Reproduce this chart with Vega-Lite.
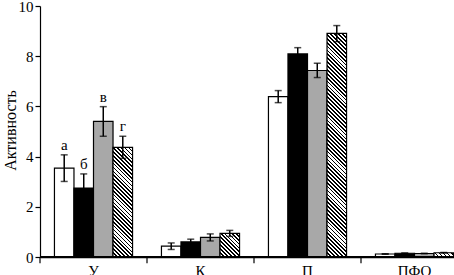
{
  "$schema": "https://vega.github.io/schema/vega-lite/v6.json",
  "autosize": {"type": "none"},
  "width": 414,
  "height": 251,
  "padding": {"left": 40, "top": 6, "right": 0, "bottom": 18},
  "background": "white",
  "config": {
    "view": {"stroke": null},
    "font": "Liberation Serif",
    "axis": {
      "labelFontSize": 15, "labelFont": "Liberation Serif", "labelColor": "black",
      "domainColor": "black", "tickColor": "black", "tickSize": 5,
      "domainWidth": 1.2, "tickWidth": 1.2, "labelPadding": 2, "grid": false,
      "titleFont": "Liberation Serif", "titleColor": "black", "titleFontWeight": "normal", "titleFontSize": 16
    },
    "axisY": {
      "titleX": -30, "titleY": 124, "titleAngle": -90, "titleAlign": "center", "titleBaseline": "middle"
    },
    "axisX": {"title": null, "labelAngle": 0, "domain": true, "domainWidth": 1.4, "ticks": false, "labelPadding": 6, "zindex": 1}
  },
  "data": {
    "values": [
      {"g": "У", "s": "a", "v": 3.54, "lo": 3.01, "hi": 4.07, "lbl": "а"},
      {"g": "У", "s": "b", "v": 2.75, "lo": 2.19, "hi": 3.31, "lbl": "б"},
      {"g": "У", "s": "c", "v": 5.40, "lo": 4.81, "hi": 5.99, "lbl": "в"},
      {"g": "У", "s": "d", "v": 4.37, "lo": 3.93, "hi": 4.81, "lbl": "г"},
      {"g": "К", "s": "a", "v": 0.43, "lo": 0.30, "hi": 0.56, "lbl": ""},
      {"g": "К", "s": "b", "v": 0.60, "lo": 0.49, "hi": 0.71, "lbl": ""},
      {"g": "К", "s": "c", "v": 0.78, "lo": 0.64, "hi": 0.92, "lbl": ""},
      {"g": "К", "s": "d", "v": 0.94, "lo": 0.82, "hi": 1.06, "lbl": ""},
      {"g": "П", "s": "a", "v": 6.39, "lo": 6.15, "hi": 6.63, "lbl": ""},
      {"g": "П", "s": "b", "v": 8.09, "lo": 7.84, "hi": 8.34, "lbl": ""},
      {"g": "П", "s": "c", "v": 7.43, "lo": 7.15, "hi": 7.72, "lbl": ""},
      {"g": "П", "s": "d", "v": 8.91, "lo": 8.58, "hi": 9.22, "lbl": ""},
      {"g": "ПФО", "s": "a", "v": 0.12, "lo": 0.11, "hi": 0.13, "lbl": ""},
      {"g": "ПФО", "s": "b", "v": 0.15, "lo": 0.14, "hi": 0.16, "lbl": ""},
      {"g": "ПФО", "s": "c", "v": 0.14, "lo": 0.13, "hi": 0.15, "lbl": ""},
      {"g": "ПФО", "s": "d", "v": 0.17, "lo": 0.16, "hi": 0.18, "lbl": ""}
    ]
  },
  "layer": [
    {
      "mark": {"type": "bar", "stroke": "black", "strokeWidth": 1.2},
      "encoding": {
        "x": {"field": "g", "type": "nominal", "sort": ["У", "К", "П", "ПФО"], "title": null, "scale": {"range": [0, 428], "paddingInner": 0, "paddingOuter": 0}},
        "xOffset": {"field": "s", "type": "nominal", "sort": ["a", "b", "c", "d"], "scale": {"paddingInner": 0, "paddingOuter": 0.74}},
        "y": {
          "field": "v", "type": "quantitative", "scale": {"domain": [0, 10]},
          "title": "Активность", "axis": {"values": [0, 2, 4, 6, 8, 10]}
        },
        "fill": {
          "field": "s", "type": "nominal", "legend": null,
          "scale": {"domain": ["a", "b", "c", "d"], "range": ["#ffffff", "#000000", "#a8a8a8", "#808080"]},
          "condition": [
            {"test": "datum.g==='У'&&datum.s==='d'", "value": {"gradient": "linear", "x1": 0, "y1": 1, "x2": 0.2032, "y2": -0.1416, "stops": [
              {"offset":0,"color":"#000"},{"offset":0.013,"color":"#000"},{"offset":0.013,"color":"#fff"},{"offset":0.03,"color":"#fff"},
              {"offset":0.03,"color":"#000"},{"offset":0.043,"color":"#000"},{"offset":0.043,"color":"#fff"},{"offset":0.06,"color":"#fff"},
              {"offset":0.06,"color":"#000"},{"offset":0.073,"color":"#000"},{"offset":0.073,"color":"#fff"},{"offset":0.09,"color":"#fff"},
              {"offset":0.09,"color":"#000"},{"offset":0.103,"color":"#000"},{"offset":0.103,"color":"#fff"},{"offset":0.12,"color":"#fff"},
              {"offset":0.12,"color":"#000"},{"offset":0.133,"color":"#000"},{"offset":0.133,"color":"#fff"},{"offset":0.15,"color":"#fff"},
              {"offset":0.15,"color":"#000"},{"offset":0.163,"color":"#000"},{"offset":0.163,"color":"#fff"},{"offset":0.18,"color":"#fff"},
              {"offset":0.18,"color":"#000"},{"offset":0.193,"color":"#000"},{"offset":0.193,"color":"#fff"},{"offset":0.21,"color":"#fff"},
              {"offset":0.21,"color":"#000"},{"offset":0.223,"color":"#000"},{"offset":0.223,"color":"#fff"},{"offset":0.24,"color":"#fff"},
              {"offset":0.24,"color":"#000"},{"offset":0.253,"color":"#000"},{"offset":0.253,"color":"#fff"},{"offset":0.27,"color":"#fff"},
              {"offset":0.27,"color":"#000"},{"offset":0.283,"color":"#000"},{"offset":0.283,"color":"#fff"},{"offset":0.3,"color":"#fff"},
              {"offset":0.3,"color":"#000"},{"offset":0.313,"color":"#000"},{"offset":0.313,"color":"#fff"},{"offset":0.33,"color":"#fff"},
              {"offset":0.33,"color":"#000"},{"offset":0.343,"color":"#000"},{"offset":0.343,"color":"#fff"},{"offset":0.36,"color":"#fff"},
              {"offset":0.36,"color":"#000"},{"offset":0.373,"color":"#000"},{"offset":0.373,"color":"#fff"},{"offset":0.39,"color":"#fff"},
              {"offset":0.39,"color":"#000"},{"offset":0.403,"color":"#000"},{"offset":0.403,"color":"#fff"},{"offset":0.42,"color":"#fff"},
              {"offset":0.42,"color":"#000"},{"offset":0.433,"color":"#000"},{"offset":0.433,"color":"#fff"},{"offset":0.45,"color":"#fff"},
              {"offset":0.45,"color":"#000"},{"offset":0.463,"color":"#000"},{"offset":0.463,"color":"#fff"},{"offset":0.48,"color":"#fff"},
              {"offset":0.48,"color":"#000"},{"offset":0.493,"color":"#000"},{"offset":0.493,"color":"#fff"},{"offset":0.51,"color":"#fff"},
              {"offset":0.51,"color":"#000"},{"offset":0.523,"color":"#000"},{"offset":0.523,"color":"#fff"},{"offset":0.54,"color":"#fff"},
              {"offset":0.54,"color":"#000"},{"offset":0.553,"color":"#000"},{"offset":0.553,"color":"#fff"},{"offset":0.57,"color":"#fff"},
              {"offset":0.57,"color":"#000"},{"offset":0.583,"color":"#000"},{"offset":0.583,"color":"#fff"},{"offset":0.6,"color":"#fff"},
              {"offset":0.6,"color":"#000"},{"offset":0.613,"color":"#000"},{"offset":0.613,"color":"#fff"},{"offset":0.63,"color":"#fff"},
              {"offset":0.63,"color":"#000"},{"offset":0.643,"color":"#000"},{"offset":0.643,"color":"#fff"},{"offset":0.66,"color":"#fff"},
              {"offset":0.66,"color":"#000"},{"offset":0.673,"color":"#000"},{"offset":0.673,"color":"#fff"},{"offset":0.69,"color":"#fff"},
              {"offset":0.69,"color":"#000"},{"offset":0.703,"color":"#000"},{"offset":0.703,"color":"#fff"},{"offset":0.72,"color":"#fff"},
              {"offset":0.72,"color":"#000"},{"offset":0.733,"color":"#000"},{"offset":0.733,"color":"#fff"},{"offset":0.75,"color":"#fff"},
              {"offset":0.75,"color":"#000"},{"offset":0.763,"color":"#000"},{"offset":0.763,"color":"#fff"},{"offset":0.78,"color":"#fff"},
              {"offset":0.78,"color":"#000"},{"offset":0.793,"color":"#000"},{"offset":0.793,"color":"#fff"},{"offset":0.81,"color":"#fff"},
              {"offset":0.81,"color":"#000"},{"offset":0.823,"color":"#000"},{"offset":0.823,"color":"#fff"},{"offset":0.84,"color":"#fff"},
              {"offset":0.84,"color":"#000"},{"offset":0.853,"color":"#000"},{"offset":0.853,"color":"#fff"},{"offset":0.87,"color":"#fff"},
              {"offset":0.87,"color":"#000"},{"offset":0.883,"color":"#000"},{"offset":0.883,"color":"#fff"},{"offset":0.9,"color":"#fff"},
              {"offset":0.9,"color":"#000"},{"offset":0.913,"color":"#000"},{"offset":0.913,"color":"#fff"},{"offset":0.93,"color":"#fff"},
              {"offset":0.93,"color":"#000"},{"offset":0.943,"color":"#000"},{"offset":0.943,"color":"#fff"},{"offset":0.96,"color":"#fff"},
              {"offset":0.96,"color":"#000"},{"offset":0.973,"color":"#000"},{"offset":0.973,"color":"#fff"},{"offset":0.99,"color":"#fff"},
              {"offset":0.99,"color":"#000"},{"offset":1,"color":"#000"}
            ]}},
            {"test": "datum.g==='К'&&datum.s==='d'", "value": {"gradient": "linear", "x1": 0, "y1": 1, "x2": 0.8976, "y2": -0.0847, "stops": [
              {"offset":0,"color":"#000"},{"offset":0.04,"color":"#000"},{"offset":0.04,"color":"#fff"},{"offset":0.09,"color":"#fff"},
              {"offset":0.09,"color":"#000"},{"offset":0.13,"color":"#000"},{"offset":0.13,"color":"#fff"},{"offset":0.18,"color":"#fff"},
              {"offset":0.18,"color":"#000"},{"offset":0.22,"color":"#000"},{"offset":0.22,"color":"#fff"},{"offset":0.27,"color":"#fff"},
              {"offset":0.27,"color":"#000"},{"offset":0.31,"color":"#000"},{"offset":0.31,"color":"#fff"},{"offset":0.36,"color":"#fff"},
              {"offset":0.36,"color":"#000"},{"offset":0.4,"color":"#000"},{"offset":0.4,"color":"#fff"},{"offset":0.45,"color":"#fff"},
              {"offset":0.45,"color":"#000"},{"offset":0.49,"color":"#000"},{"offset":0.49,"color":"#fff"},{"offset":0.54,"color":"#fff"},
              {"offset":0.54,"color":"#000"},{"offset":0.58,"color":"#000"},{"offset":0.58,"color":"#fff"},{"offset":0.63,"color":"#fff"},
              {"offset":0.63,"color":"#000"},{"offset":0.67,"color":"#000"},{"offset":0.67,"color":"#fff"},{"offset":0.72,"color":"#fff"},
              {"offset":0.72,"color":"#000"},{"offset":0.76,"color":"#000"},{"offset":0.76,"color":"#fff"},{"offset":0.81,"color":"#fff"},
              {"offset":0.81,"color":"#000"},{"offset":0.85,"color":"#000"},{"offset":0.85,"color":"#fff"},{"offset":0.9,"color":"#fff"},
              {"offset":0.9,"color":"#000"},{"offset":0.94,"color":"#000"},{"offset":0.94,"color":"#fff"},{"offset":0.99,"color":"#fff"},
              {"offset":0.99,"color":"#000"},{"offset":1,"color":"#000"}
            ]}},
            {"test": "datum.g==='П'&&datum.s==='d'", "value": {"gradient": "linear", "x1": 0, "y1": 1, "x2": 0.0942, "y2": -0.079, "stops": [
              {"offset":0,"color":"#000"},{"offset":0.007,"color":"#000"},{"offset":0.007,"color":"#fff"},{"offset":0.016,"color":"#fff"},
              {"offset":0.016,"color":"#000"},{"offset":0.023,"color":"#000"},{"offset":0.023,"color":"#fff"},{"offset":0.032,"color":"#fff"},
              {"offset":0.032,"color":"#000"},{"offset":0.039,"color":"#000"},{"offset":0.039,"color":"#fff"},{"offset":0.048,"color":"#fff"},
              {"offset":0.048,"color":"#000"},{"offset":0.055,"color":"#000"},{"offset":0.055,"color":"#fff"},{"offset":0.064,"color":"#fff"},
              {"offset":0.064,"color":"#000"},{"offset":0.071,"color":"#000"},{"offset":0.071,"color":"#fff"},{"offset":0.08,"color":"#fff"},
              {"offset":0.08,"color":"#000"},{"offset":0.087,"color":"#000"},{"offset":0.087,"color":"#fff"},{"offset":0.096,"color":"#fff"},
              {"offset":0.096,"color":"#000"},{"offset":0.103,"color":"#000"},{"offset":0.103,"color":"#fff"},{"offset":0.112,"color":"#fff"},
              {"offset":0.112,"color":"#000"},{"offset":0.119,"color":"#000"},{"offset":0.119,"color":"#fff"},{"offset":0.128,"color":"#fff"},
              {"offset":0.128,"color":"#000"},{"offset":0.135,"color":"#000"},{"offset":0.135,"color":"#fff"},{"offset":0.144,"color":"#fff"},
              {"offset":0.144,"color":"#000"},{"offset":0.151,"color":"#000"},{"offset":0.151,"color":"#fff"},{"offset":0.16,"color":"#fff"},
              {"offset":0.16,"color":"#000"},{"offset":0.167,"color":"#000"},{"offset":0.167,"color":"#fff"},{"offset":0.176,"color":"#fff"},
              {"offset":0.176,"color":"#000"},{"offset":0.183,"color":"#000"},{"offset":0.183,"color":"#fff"},{"offset":0.192,"color":"#fff"},
              {"offset":0.192,"color":"#000"},{"offset":0.199,"color":"#000"},{"offset":0.199,"color":"#fff"},{"offset":0.208,"color":"#fff"},
              {"offset":0.208,"color":"#000"},{"offset":0.215,"color":"#000"},{"offset":0.215,"color":"#fff"},{"offset":0.224,"color":"#fff"},
              {"offset":0.224,"color":"#000"},{"offset":0.231,"color":"#000"},{"offset":0.231,"color":"#fff"},{"offset":0.24,"color":"#fff"},
              {"offset":0.24,"color":"#000"},{"offset":0.247,"color":"#000"},{"offset":0.247,"color":"#fff"},{"offset":0.256,"color":"#fff"},
              {"offset":0.256,"color":"#000"},{"offset":0.263,"color":"#000"},{"offset":0.263,"color":"#fff"},{"offset":0.272,"color":"#fff"},
              {"offset":0.272,"color":"#000"},{"offset":0.279,"color":"#000"},{"offset":0.279,"color":"#fff"},{"offset":0.288,"color":"#fff"},
              {"offset":0.288,"color":"#000"},{"offset":0.295,"color":"#000"},{"offset":0.295,"color":"#fff"},{"offset":0.304,"color":"#fff"},
              {"offset":0.304,"color":"#000"},{"offset":0.311,"color":"#000"},{"offset":0.311,"color":"#fff"},{"offset":0.32,"color":"#fff"},
              {"offset":0.32,"color":"#000"},{"offset":0.327,"color":"#000"},{"offset":0.327,"color":"#fff"},{"offset":0.336,"color":"#fff"},
              {"offset":0.336,"color":"#000"},{"offset":0.343,"color":"#000"},{"offset":0.343,"color":"#fff"},{"offset":0.352,"color":"#fff"},
              {"offset":0.352,"color":"#000"},{"offset":0.359,"color":"#000"},{"offset":0.359,"color":"#fff"},{"offset":0.368,"color":"#fff"},
              {"offset":0.368,"color":"#000"},{"offset":0.375,"color":"#000"},{"offset":0.375,"color":"#fff"},{"offset":0.384,"color":"#fff"},
              {"offset":0.384,"color":"#000"},{"offset":0.391,"color":"#000"},{"offset":0.391,"color":"#fff"},{"offset":0.4,"color":"#fff"},
              {"offset":0.4,"color":"#000"},{"offset":0.407,"color":"#000"},{"offset":0.407,"color":"#fff"},{"offset":0.416,"color":"#fff"},
              {"offset":0.416,"color":"#000"},{"offset":0.423,"color":"#000"},{"offset":0.423,"color":"#fff"},{"offset":0.432,"color":"#fff"},
              {"offset":0.432,"color":"#000"},{"offset":0.439,"color":"#000"},{"offset":0.439,"color":"#fff"},{"offset":0.448,"color":"#fff"},
              {"offset":0.448,"color":"#000"},{"offset":0.455,"color":"#000"},{"offset":0.455,"color":"#fff"},{"offset":0.464,"color":"#fff"},
              {"offset":0.464,"color":"#000"},{"offset":0.471,"color":"#000"},{"offset":0.471,"color":"#fff"},{"offset":0.48,"color":"#fff"},
              {"offset":0.48,"color":"#000"},{"offset":0.487,"color":"#000"},{"offset":0.487,"color":"#fff"},{"offset":0.496,"color":"#fff"},
              {"offset":0.496,"color":"#000"},{"offset":0.503,"color":"#000"},{"offset":0.503,"color":"#fff"},{"offset":0.512,"color":"#fff"},
              {"offset":0.512,"color":"#000"},{"offset":0.519,"color":"#000"},{"offset":0.519,"color":"#fff"},{"offset":0.528,"color":"#fff"},
              {"offset":0.528,"color":"#000"},{"offset":0.535,"color":"#000"},{"offset":0.535,"color":"#fff"},{"offset":0.544,"color":"#fff"},
              {"offset":0.544,"color":"#000"},{"offset":0.551,"color":"#000"},{"offset":0.551,"color":"#fff"},{"offset":0.56,"color":"#fff"},
              {"offset":0.56,"color":"#000"},{"offset":0.567,"color":"#000"},{"offset":0.567,"color":"#fff"},{"offset":0.576,"color":"#fff"},
              {"offset":0.576,"color":"#000"},{"offset":0.583,"color":"#000"},{"offset":0.583,"color":"#fff"},{"offset":0.592,"color":"#fff"},
              {"offset":0.592,"color":"#000"},{"offset":0.599,"color":"#000"},{"offset":0.599,"color":"#fff"},{"offset":0.608,"color":"#fff"},
              {"offset":0.608,"color":"#000"},{"offset":0.615,"color":"#000"},{"offset":0.615,"color":"#fff"},{"offset":0.624,"color":"#fff"},
              {"offset":0.624,"color":"#000"},{"offset":0.631,"color":"#000"},{"offset":0.631,"color":"#fff"},{"offset":0.64,"color":"#fff"},
              {"offset":0.64,"color":"#000"},{"offset":0.647,"color":"#000"},{"offset":0.647,"color":"#fff"},{"offset":0.656,"color":"#fff"},
              {"offset":0.656,"color":"#000"},{"offset":0.663,"color":"#000"},{"offset":0.663,"color":"#fff"},{"offset":0.672,"color":"#fff"},
              {"offset":0.672,"color":"#000"},{"offset":0.679,"color":"#000"},{"offset":0.679,"color":"#fff"},{"offset":0.688,"color":"#fff"},
              {"offset":0.688,"color":"#000"},{"offset":0.695,"color":"#000"},{"offset":0.695,"color":"#fff"},{"offset":0.704,"color":"#fff"},
              {"offset":0.704,"color":"#000"},{"offset":0.711,"color":"#000"},{"offset":0.711,"color":"#fff"},{"offset":0.72,"color":"#fff"},
              {"offset":0.72,"color":"#000"},{"offset":0.727,"color":"#000"},{"offset":0.727,"color":"#fff"},{"offset":0.736,"color":"#fff"},
              {"offset":0.736,"color":"#000"},{"offset":0.743,"color":"#000"},{"offset":0.743,"color":"#fff"},{"offset":0.752,"color":"#fff"},
              {"offset":0.752,"color":"#000"},{"offset":0.759,"color":"#000"},{"offset":0.759,"color":"#fff"},{"offset":0.768,"color":"#fff"},
              {"offset":0.768,"color":"#000"},{"offset":0.775,"color":"#000"},{"offset":0.775,"color":"#fff"},{"offset":0.784,"color":"#fff"},
              {"offset":0.784,"color":"#000"},{"offset":0.791,"color":"#000"},{"offset":0.791,"color":"#fff"},{"offset":0.8,"color":"#fff"},
              {"offset":0.8,"color":"#000"},{"offset":0.807,"color":"#000"},{"offset":0.807,"color":"#fff"},{"offset":0.816,"color":"#fff"},
              {"offset":0.816,"color":"#000"},{"offset":0.823,"color":"#000"},{"offset":0.823,"color":"#fff"},{"offset":0.832,"color":"#fff"},
              {"offset":0.832,"color":"#000"},{"offset":0.839,"color":"#000"},{"offset":0.839,"color":"#fff"},{"offset":0.848,"color":"#fff"},
              {"offset":0.848,"color":"#000"},{"offset":0.855,"color":"#000"},{"offset":0.855,"color":"#fff"},{"offset":0.864,"color":"#fff"},
              {"offset":0.864,"color":"#000"},{"offset":0.871,"color":"#000"},{"offset":0.871,"color":"#fff"},{"offset":0.88,"color":"#fff"},
              {"offset":0.88,"color":"#000"},{"offset":0.887,"color":"#000"},{"offset":0.887,"color":"#fff"},{"offset":0.896,"color":"#fff"},
              {"offset":0.896,"color":"#000"},{"offset":0.903,"color":"#000"},{"offset":0.903,"color":"#fff"},{"offset":0.912,"color":"#fff"},
              {"offset":0.912,"color":"#000"},{"offset":0.919,"color":"#000"},{"offset":0.919,"color":"#fff"},{"offset":0.928,"color":"#fff"},
              {"offset":0.928,"color":"#000"},{"offset":0.935,"color":"#000"},{"offset":0.935,"color":"#fff"},{"offset":0.944,"color":"#fff"},
              {"offset":0.944,"color":"#000"},{"offset":0.951,"color":"#000"},{"offset":0.951,"color":"#fff"},{"offset":0.96,"color":"#fff"},
              {"offset":0.96,"color":"#000"},{"offset":0.967,"color":"#000"},{"offset":0.967,"color":"#fff"},{"offset":0.976,"color":"#fff"},
              {"offset":0.976,"color":"#000"},{"offset":0.983,"color":"#000"},{"offset":0.983,"color":"#fff"},{"offset":0.992,"color":"#fff"},
              {"offset":0.992,"color":"#000"},{"offset":0.999,"color":"#000"},{"offset":0.999,"color":"#fff"},{"offset":1,"color":"#fff"}
            ]}},
            {"test": "datum.g==='ПФО'&&datum.s==='d'", "value": {"gradient": "linear", "x1": 0, "y1": 1, "x2": 1.163, "y2": 0.7457, "stops": [
              {"offset":0,"color":"#000"},{"offset":0.075,"color":"#000"},{"offset":0.075,"color":"#fff"},{"offset":0.17,"color":"#fff"},
              {"offset":0.17,"color":"#000"},{"offset":0.245,"color":"#000"},{"offset":0.245,"color":"#fff"},{"offset":0.34,"color":"#fff"},
              {"offset":0.34,"color":"#000"},{"offset":0.415,"color":"#000"},{"offset":0.415,"color":"#fff"},{"offset":0.51,"color":"#fff"},
              {"offset":0.51,"color":"#000"},{"offset":0.585,"color":"#000"},{"offset":0.585,"color":"#fff"},{"offset":0.68,"color":"#fff"},
              {"offset":0.68,"color":"#000"},{"offset":0.755,"color":"#000"},{"offset":0.755,"color":"#fff"},{"offset":0.85,"color":"#fff"},
              {"offset":0.85,"color":"#000"},{"offset":0.925,"color":"#000"},{"offset":0.925,"color":"#fff"},{"offset":1,"color":"#fff"}
            ]}}
          ]
        }
      }
    },
    {
      "mark": {"type": "rule", "color": "black", "strokeWidth": 1.5},
      "encoding": {
        "x": {"field": "g", "type": "nominal", "sort": ["У", "К", "П", "ПФО"], "title": null},
        "xOffset": {"field": "s", "type": "nominal", "sort": ["a", "b", "c", "d"], "scale": {"paddingInner": 0, "paddingOuter": 0.74}},
        "y": {"field": "lo", "type": "quantitative", "title": "Активность"},
        "y2": {"field": "hi"}
      }
    },
    {
      "mark": {"type": "tick", "color": "black", "thickness": 1.5, "size": 7, "orient": "horizontal"},
      "encoding": {
        "x": {"field": "g", "type": "nominal", "sort": ["У", "К", "П", "ПФО"], "title": null},
        "xOffset": {"field": "s", "type": "nominal", "sort": ["a", "b", "c", "d"], "scale": {"paddingInner": 0, "paddingOuter": 0.74}},
        "y": {"field": "hi", "type": "quantitative", "title": "Активность"}
      }
    },
    {
      "mark": {"type": "tick", "color": "black", "thickness": 1.5, "size": 7, "orient": "horizontal"},
      "encoding": {
        "x": {"field": "g", "type": "nominal", "sort": ["У", "К", "П", "ПФО"], "title": null},
        "xOffset": {"field": "s", "type": "nominal", "sort": ["a", "b", "c", "d"], "scale": {"paddingInner": 0, "paddingOuter": 0.74}},
        "y": {"field": "lo", "type": "quantitative", "title": "Активность"}
      }
    },
    {
      "mark": {"type": "text", "baseline": "bottom", "dy": -2, "fontSize": 15, "font": "Liberation Serif", "color": "black"},
      "encoding": {
        "x": {"field": "g", "type": "nominal", "sort": ["У", "К", "П", "ПФО"], "title": null},
        "xOffset": {"field": "s", "type": "nominal", "sort": ["a", "b", "c", "d"], "scale": {"paddingInner": 0, "paddingOuter": 0.74}},
        "y": {"field": "hi", "type": "quantitative", "title": "Активность"},
        "text": {"field": "lbl"}
      }
    },
    {
      "mark": {"type": "rule", "color": "black", "strokeWidth": 1.5},
      "encoding": {
        "y": {"datum": 0, "type": "quantitative", "title": "Активность"}
      }
    },
    {
      "transform": [{"filter": "datum.s==='a'"}],
      "mark": {"type": "rule", "color": "black", "strokeWidth": 1.2},
      "encoding": {
        "x": {"field": "g", "type": "nominal", "sort": ["У", "К", "П", "ПФО"], "title": null, "bandPosition": 0},
        "y": {"datum": 0, "type": "quantitative", "title": "Активность"},
        "y2": {"datum": -0.25}
      }
    }
  ]
}
